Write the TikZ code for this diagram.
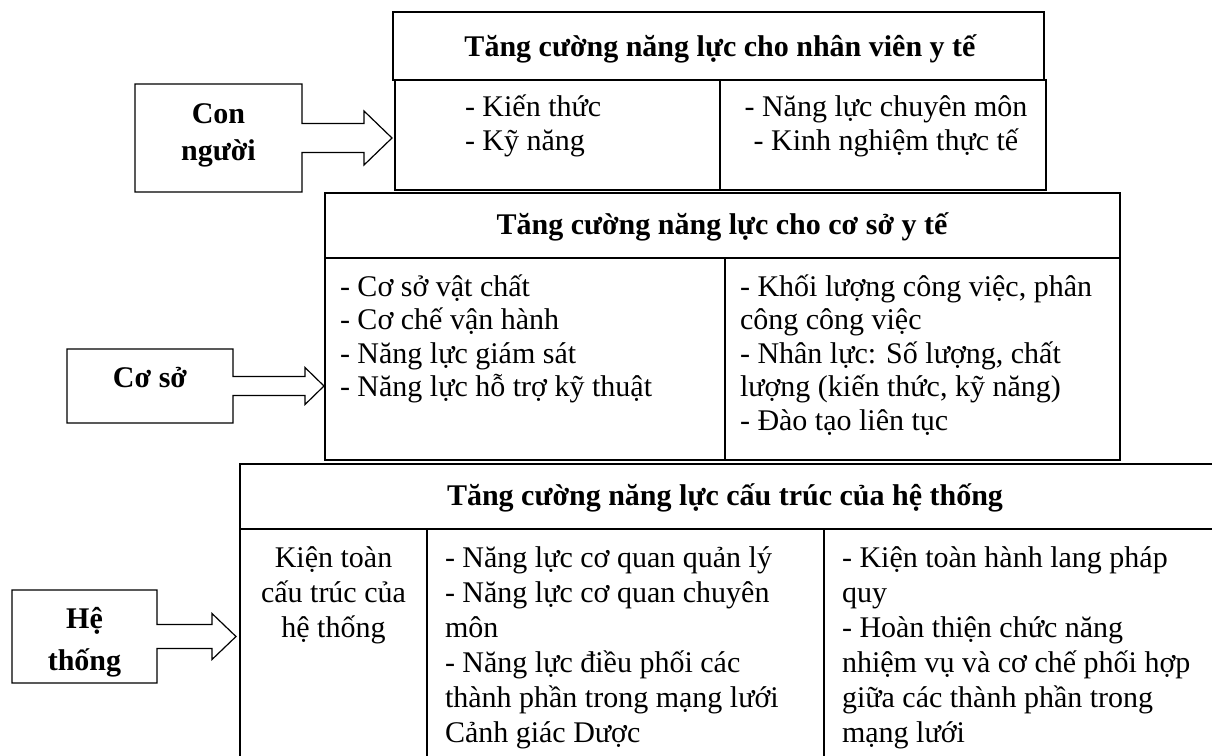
\documentclass[tikz,border=0pt]{standalone}
\usepackage{fontspec}
\setmainfont{Liberation Serif}
\usetikzlibrary{calc}
\newcommand\tstrut{\rule{0pt}{30pt}}
\newcommand\bodyfont{\fontsize{30}{35}\selectfont\lineskiplimit=-100pt\relax}
\newcommand\bodyfontb{\fontsize{30}{33.5}\selectfont\lineskiplimit=-100pt\relax}
\newcommand\bodyfontc{\fontsize{30}{34}\selectfont\lineskiplimit=-100pt\relax}
\newcommand\sidefont{\fontsize{30}{37}\selectfont\bfseries\lineskiplimit=-100pt\relax}
\newcommand\sidefontb{\fontsize{30}{42}\selectfont\bfseries\lineskiplimit=-100pt\relax}
\newcommand\headfont{\fontsize{30}{35}\selectfont\bfseries}
\begin{document}
\begin{tikzpicture}[x=1pt,y=-1pt,
  ln/.style={line width=1.2pt, line join=miter},
  cell/.style={draw, line width=1.2pt, inner sep=0pt, outer sep=0pt, anchor=north west},
  hold/.style={inner sep=0pt, outer sep=0pt},
  lbl/.style={inner sep=0pt, outer sep=0pt, anchor=north west, align=left, font=\bodyfont},
  lblc/.style={inner sep=0pt, outer sep=0pt, anchor=north, align=center, font=\bodyfont},
  hd/.style={inner sep=0pt, outer sep=0pt, anchor=base, font=\headfont},
  side/.style={inner sep=0pt, outer sep=0pt, anchor=north, align=center, font=\sidefont}
]
\useasboundingbox (0,0) rectangle (1212,755);
\clip (0,0) rectangle (1212,755);

% table 1
\node[cell, minimum width=651, minimum height=68] (t1h) at (393,12) {};
\node[cell, minimum width=325, minimum height=110] (t1a) at (395,80) {};
\node[cell, minimum width=326, minimum height=110] (t1b) at (720,80) {};
% table 2
\node[cell, minimum width=795, minimum height=65] (t2h) at (325,193) {};
\node[cell, minimum width=400, minimum height=202] (t2a) at (325,258) {};
\node[cell, minimum width=395, minimum height=202] (t2b) at (725,258) {};
% table 3
\node[cell, minimum width=1000, minimum height=65] (t3h) at (240,464) {};
\node[cell, minimum width=187, minimum height=250] (t3a) at (240,529) {};
\node[cell, minimum width=397, minimum height=250] (t3b) at (427,529) {};
\node[cell, minimum width=400, minimum height=250] (t3c) at (824,529) {};

% texts table 1
\node[hd] (t1ht) at (720,56) {Tăng cường năng lực cho nhân viên y tế};
\node[lbl, font=\bodyfontc] (t1at) at (465,86) {\tstrut- Kiến thức\\- Kỹ năng};
\node[lblc, font=\bodyfontc] (t1bt) at (886,86) {\tstrut- Năng lực chuyên môn\\- Kinh nghiệm thực tế};
% texts table 2
\node[hd] (t2ht) at (722,234) {Tăng cường năng lực cho cơ sở y tế};
\node[lbl, font=\bodyfontb] (t2at) at (340,266) {\tstrut- Cơ sở vật chất\\- Cơ chế vận hành\\- Năng lực giám sát\\- Năng lực hỗ trợ kỹ thuật};
\node[lbl, font=\bodyfontb] (t2bt) at (740,266) {\tstrut- Khối lượng công việc, phân\\công công việc\\- Nhân lực: Số lượng, chất\\lượng (kiến thức, kỹ năng)\\- Đào tạo liên tục};
% texts table 3
\node[hd] (t3ht) at (725,505) {Tăng cường năng lực cấu trúc của hệ thống};
\node[lblc] (t3at) at (333.5,537) {\tstrut Kiện toàn\\cấu trúc của\\hệ thống};
\node[lbl] (t3bt) at (445,537) {\tstrut- Năng lực cơ quan quản lý\\- Năng lực cơ quan chuyên\\môn\\- Năng lực điều phối các\\thành phần trong mạng lưới\\Cảnh giác Dược};
\node[lbl] (t3ct) at (842,537) {\tstrut- Kiện toàn hành lang pháp\\quy\\- Hoàn thiện chức năng\\nhiệm vụ và cơ chế phối hợp\\giữa các thành phần trong\\mạng lưới};

% side boxes
\node[hold, minimum width=167, minimum height=108] (cn) at (218.5,138) {};
\node[hold, minimum width=166, minimum height=74] (cs) at (150,386) {};
\node[hold, minimum width=145, minimum height=93] (ht) at (84.5,636.5) {};
\node[side] (cnt) at (218.5,93) {\tstrut Con\\người};
\node[hd] (cst) at (150,387) {Cơ sở};
\node[side, font=\sidefontb] (htt) at (84.5,598) {\tstrut Hệ\\thống};

\coordinate (cntip) at ($(t1a.west |- cn.east)+(-3,0)$);
\coordinate (cstip) at ($(t2a.west |- cs.east)+(-1,0)$);
\coordinate (httip) at ($(t3a.west |- ht.east)+(-4,0)$);

\draw[ln] ($(cn.east)+(0,-14.5)$) -- (cn.north east) -- (cn.north west) -- (cn.south west) -- (cn.south east)
  -- ($(cn.east)+(0,14.5)$) -- ($(cntip)+(-28,14.5)$) -- ($(cntip)+(-28,27)$) -- (cntip)
  -- ($(cntip)+(-28,-27)$) -- ($(cntip)+(-28,-14.5)$) -- cycle;
\draw[ln] ($(cs.east)+(0,-9.5)$) -- (cs.north east) -- (cs.north west) -- (cs.south west) -- (cs.south east)
  -- ($(cs.east)+(0,9.5)$) -- ($(cstip)+(-19,9.5)$) -- ($(cstip)+(-19,18.5)$) -- (cstip)
  -- ($(cstip)+(-19,-18.5)$) -- ($(cstip)+(-19,-9.5)$) -- cycle;
\draw[ln] ($(ht.east)+(0,-12)$) -- (ht.north east) -- (ht.north west) -- (ht.south west) -- (ht.south east)
  -- ($(ht.east)+(0,12)$) -- ($(httip)+(-24,12)$) -- ($(httip)+(-24,23)$) -- (httip)
  -- ($(httip)+(-24,-23)$) -- ($(httip)+(-24,-12)$) -- cycle;
\end{tikzpicture}
\end{document}
